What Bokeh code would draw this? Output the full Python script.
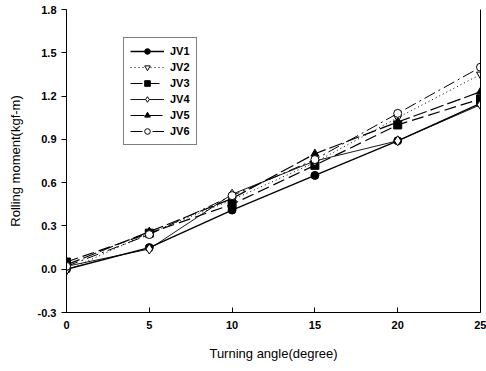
from bokeh.plotting import figure
from bokeh.models import Range1d, FixedTicker, LinearAxis, PrintfTickFormatter
from bokeh.embed import file_html
from bokeh.resources import INLINE

angle = [0, 5, 10, 15, 20, 25]
jv1 = [0.00, 0.15, 0.41, 0.65, 0.89, 1.15]
jv2 = [-0.01, 0.25, 0.48, 0.74, 1.05, 1.35]
jv3 = [0.05, 0.25, 0.45, 0.72, 1.00, 1.18]
jv4 = [0.02, 0.14, 0.52, 0.75, 0.89, 1.14]
jv5 = [0.03, 0.26, 0.49, 0.80, 1.02, 1.23]
jv6 = [0.02, 0.24, 0.51, 0.76, 1.08, 1.40]
names = ["JV1", "JV2", "JV3", "JV4", "JV5", "JV6"]
series = [jv1, jv2, jv3, jv4, jv5, jv6]
x_ticks = [0, 5, 10, 15, 20, 25]
y_ticks = [-0.3, 0.0, 0.3, 0.6, 0.9, 1.2, 1.5, 1.8]

styles = [
    dict(marker="circle", fill="black", dash="solid", lw=1.4),
    dict(marker="inverted_triangle", fill="white", dash="1 3", lw=1.0),
    dict(marker="square", fill="black", dash="12 5", lw=1.2),
    dict(marker="diamond", fill="white", dash="solid", lw=0.9),
    dict(marker="triangle", fill="black", dash="14 4", lw=1.2),
    dict(marker="circle", fill="white", dash="12 4 2 4", lw=1.0),
]

FONT = "Liberation Sans"
p = figure(width=486, height=371, output_backend="svg", toolbar_location=None,
           x_range=Range1d(0, 25), y_range=Range1d(-0.3, 1.8),
           min_border_left=66, min_border_right=6, min_border_top=9,
           min_border_bottom=59)
p.outline_line_color = None
p.xgrid.visible = False
p.ygrid.visible = False

for name, ys, st in zip(names, series, styles):
    p.line(angle, ys, line_color="black", line_width=st["lw"], line_dash=st["dash"],
           legend_label=name)
    p.scatter(angle, ys, marker=st["marker"], size=8 if st["marker"] != "diamond" else 10,
              fill_color=st["fill"], line_color="black", line_width=1,
              legend_label=name)

p.xaxis.ticker = FixedTicker(ticks=x_ticks)
p.yaxis.ticker = FixedTicker(ticks=y_ticks)
p.yaxis.formatter = PrintfTickFormatter(format="%.1f")
p.xaxis.axis_label = "Turning angle(degree)"
p.yaxis.axis_label = "Rolling moment(kgf-m)"
for ax in (p.xaxis[0], p.yaxis[0]):
    ax.axis_label_text_font = FONT
    ax.axis_label_text_font_style = "normal"
    ax.axis_label_text_font_size = "13px"
    ax.axis_label_text_color = "black"
    ax.major_label_text_font = FONT
    ax.major_label_text_font_size = "11px"
    ax.major_label_text_font_style = "bold"
    ax.major_label_text_color = "black"
    ax.minor_tick_line_color = None
    ax.axis_line_color = "black"
    ax.major_tick_line_color = "black"
p.xaxis.major_tick_in = 5
p.xaxis.major_tick_out = 0
p.yaxis.major_tick_in = 0
p.yaxis.major_tick_out = 5
p.xaxis.axis_label_standoff = 14
p.yaxis.axis_label_standoff = 12
p.xaxis.major_label_standoff = 8

right = LinearAxis(ticker=FixedTicker(ticks=[]), major_label_text_font_size="0px",
                   minor_tick_line_color=None, major_tick_line_color=None)
p.add_layout(right, "right")

lg = p.legend[0]
lg.location = (57, 167)
lg.border_line_color = "black"
lg.border_line_width = 1
lg.label_text_font = FONT
lg.label_text_font_size = "11px"
lg.label_text_font_style = "bold"
lg.label_text_color = "black"
lg.label_height = 14
lg.glyph_height = 14
lg.glyph_width = 34
lg.spacing = 2
lg.padding = 6
lg.margin = 0
lg.label_standoff = 6

open("out.html", "w").write(file_html(p, INLINE))
